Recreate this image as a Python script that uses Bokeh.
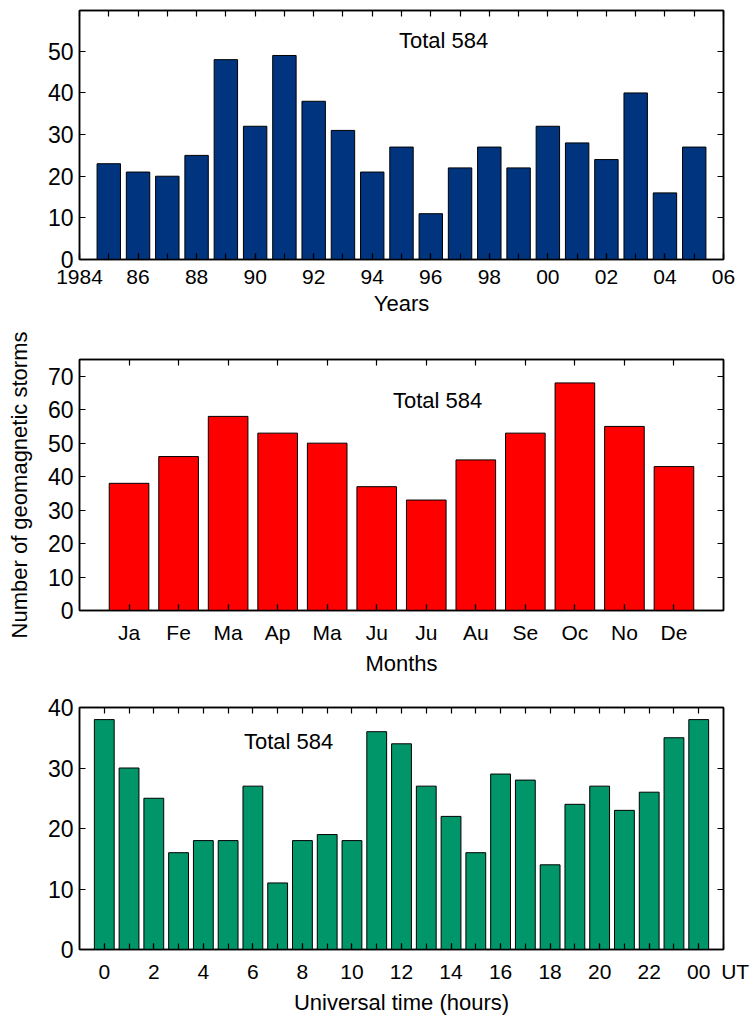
from bokeh.plotting import figure
from bokeh.layouts import column
from bokeh.models import FixedTicker, LinearAxis, Label, Range1d
from bokeh.embed import file_html
from bokeh.resources import INLINE

# ---------------- data ----------------
years = list(range(1985, 2006))
year_counts = [23, 21, 20, 25, 48, 32, 49, 38, 31, 21, 27, 11, 22, 27, 22, 32, 28, 24, 40, 16, 27]

month_pos = list(range(1, 13))
month_labels = ["Ja", "Fe", "Ma", "Ap", "Ma", "Ju", "Ju", "Au", "Se", "Oc", "No", "De"]
month_counts = [38, 46, 58, 53, 50, 37, 33, 45, 53, 68, 55, 43]

hours = list(range(0, 25))
hour_counts = [38, 30, 25, 16, 18, 18, 27, 11, 18, 19, 18, 36, 34, 27, 22, 16, 29, 28, 14, 24, 27, 23, 26, 35, 38]

year_ticks_all = list(range(1984, 2007))
year_ticks_lab = list(range(1984, 2007, 2))
year_tick_labels = {y: ("1984" if y == 1984 else f"{y % 100:02d}") for y in year_ticks_lab}

month_tick_labels = {m: lab for m, lab in zip(month_pos, month_labels)}

hour_ticks_lab = list(range(0, 25, 2)) + [25]
hour_tick_labels = {h: ("00" if h == 24 else str(h)) for h in range(0, 25, 2)}
hour_tick_labels[25] = "\u00a0\u00a0\u00a0\u00a0UT"

total_text = "Total 584"
ylabel = "Number of geomagnetic storms"

FONT = "Liberation Sans"
W = 750
BL = 79
BR = 27


def style_axis(ax, fs="21px", standoff=8):
    ax.major_tick_in = 6
    ax.major_tick_out = 0
    ax.minor_tick_in = 6
    ax.minor_tick_out = 0
    ax.minor_tick_line_color = "black"
    ax.minor_tick_line_width = 1.2
    ax.axis_line_color = "black"
    ax.axis_line_width = 1.5
    ax.major_tick_line_color = "black"
    ax.major_tick_line_width = 1.2
    ax.major_label_text_font = FONT
    ax.major_label_text_color = "black"
    ax.major_label_text_font_size = fs
    ax.major_label_standoff = standoff
    ax.axis_label_text_font = FONT
    ax.axis_label_text_font_style = "normal"
    ax.axis_label_text_color = "black"


def make_panel(height, top, bottom, xr, yr, xticks_lab, xticks_all, xoverrides, yticks,
               xs, counts, color, xlabel, tx, ty, ylab=None):
    p = figure(width=W, height=height, output_backend="svg", toolbar_location=None,
               x_range=Range1d(*xr), y_range=Range1d(*yr),
               min_border_left=BL, min_border_right=BR,
               min_border_top=top, min_border_bottom=bottom)
    p.background_fill_color = "white"
    p.border_fill_color = "white"
    p.outline_line_color = "black"
    p.outline_line_width = 1.5
    p.grid.visible = False

    p.vbar(x=xs, top=counts, width=0.8, bottom=0, fill_color=color,
           line_color="black", line_width=1)

    p.xaxis.ticker = FixedTicker(ticks=xticks_lab, minor_ticks=xticks_all)
    p.yaxis.ticker = FixedTicker(ticks=yticks, minor_ticks=[])
    p.xaxis.major_label_overrides = xoverrides
    for ax in p.xaxis:
        style_axis(ax, "21px", 10)
        ax.axis_label = xlabel
        ax.axis_label_text_font_size = "22px"
        ax.axis_label_standoff = 4
    for ax in p.yaxis:
        style_axis(ax, "23px", 6)
        if ylab:
            ax.axis_label = ylab
            ax.axis_label_text_font_size = "22px"
            ax.axis_label_standoff = 13

    # frame ticks on top and right (no labels)
    top_ax = LinearAxis(ticker=FixedTicker(ticks=[], minor_ticks=xticks_all))
    style_axis(top_ax)
    top_ax.major_label_standoff = 0
    p.add_layout(top_ax, "above")
    right_ax = LinearAxis(ticker=FixedTicker(ticks=[], minor_ticks=yticks))
    style_axis(right_ax)
    right_ax.major_label_standoff = 0
    p.add_layout(right_ax, "right")

    p.add_layout(Label(x=tx, y=ty, text=total_text, text_align="center",
                       text_baseline="middle", text_font=FONT,
                       text_font_size="22px", text_color="black"))
    return p


p1 = make_panel(318, 10, 58, (1984, 2006), (0, 59.8), year_ticks_lab, year_ticks_all,
                year_tick_labels, [0, 10, 20, 30, 40, 50], years, year_counts, "#00347e",
                "Years", 1996.44, 52.6)

p2 = make_panel(362, 41, 70, (0, 13), (0, 75), month_pos, month_pos, month_tick_labels,
                [0, 10, 20, 30, 40, 50, 60, 70], month_pos, month_counts, "#ff0000",
                "Months", 7.23, 62.7, ylab=ylabel)

p3 = make_panel(337, 27, 59, (-1, 25), (0, 40), hour_ticks_lab, hours, hour_tick_labels,
                [0, 10, 20, 30, 40], hours, hour_counts, "#009669",
                "Universal time (hours)", 7.44, 34.3)

layout = column(p1, p2, p3, spacing=0)
open("out.html", "w").write(file_html(layout, INLINE, "Geomagnetic storms"))
